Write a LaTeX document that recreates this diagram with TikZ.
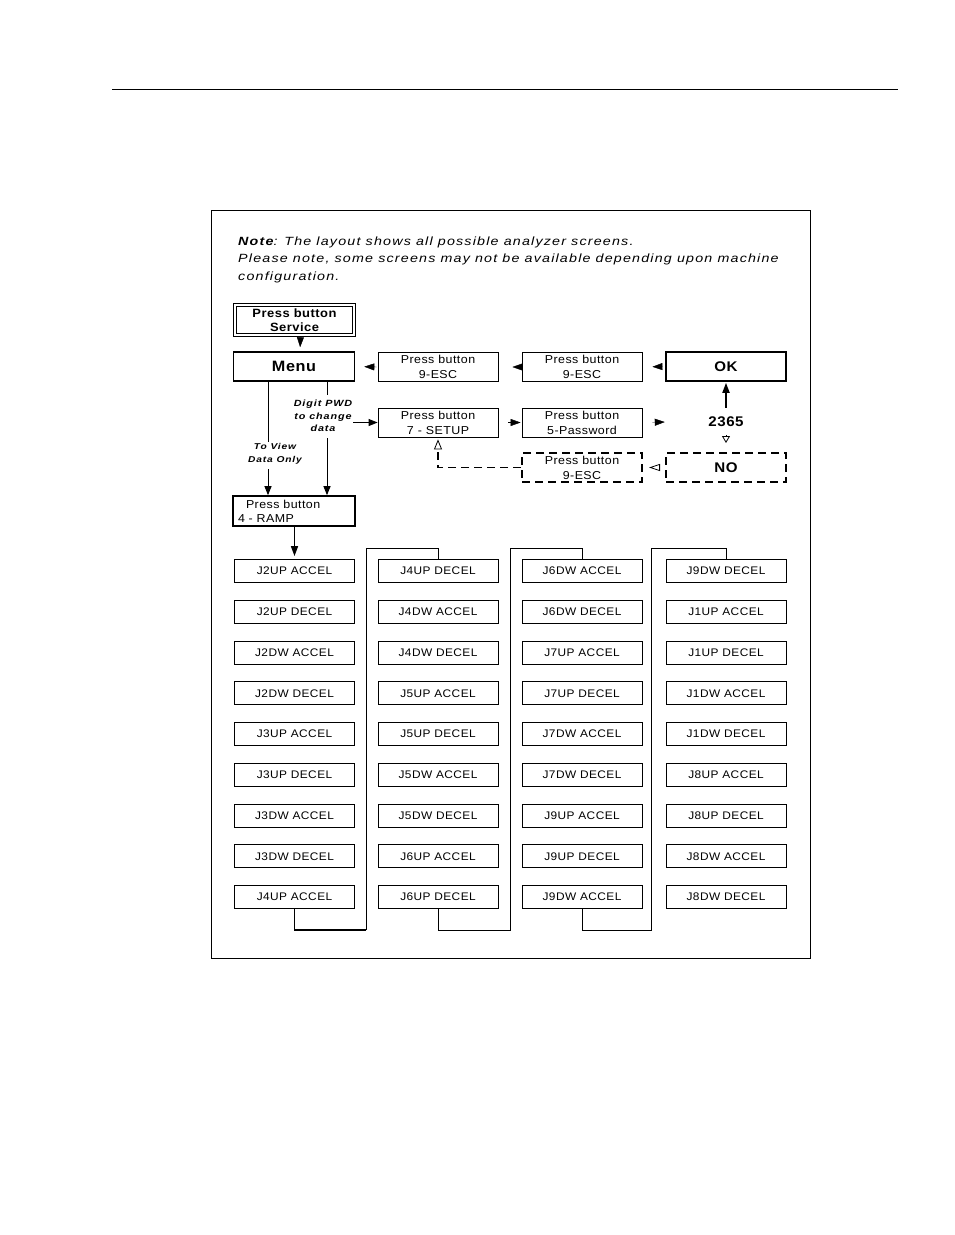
\documentclass[tikz,border=0pt]{standalone}
\usepackage{fontspec}
\setmainfont{Liberation Sans}[FakeStretch=1.08, LetterSpace=4]
\newfontfamily\widefont{Liberation Sans}[FakeStretch=1.2, LetterSpace=10]
\usetikzlibrary{arrows.meta}

\tikzset{
  screen/.style={draw, line width=0.8pt, minimum width=120pt, minimum height=29pt, inner sep=0pt, align=center, font=\fontsize{11.5}{15}\selectfont},
  mainscreen/.style={screen, line width=1.6pt, minimum width=121pt, font=\fontsize{14}{16}\selectfont\bfseries},
  jbox/.style={draw, line width=0.8pt, minimum width=120pt, minimum height=23pt, inner sep=0pt, font=\fontsize{11}{12}\selectfont},
  note/.style={align=center, inner sep=1pt, font=\widefont\fontsize{9}{12.5}\selectfont\bfseries\itshape},
  link/.style={line width=0.9pt},
  tip/.style={-{Triangle[length=10pt,width=7pt]}},
  smalltip/.style={-{Triangle[length=9pt,width=7pt]}},
  opentip/.style={-{Triangle[open,length=11pt,width=7pt]}},
  guess/.style={dashed, line width=2pt, dash pattern=on 8pt off 5pt},
}

\begin{document}
\begin{tikzpicture}[x=1pt, y=-1pt]
  \useasboundingbox (0,0) rectangle (954,1235);
  \draw[line width=0.8pt] (112,89) -- (898,89);
  \draw[line width=0.8pt] (211,210) rectangle (810,958);

  \node[anchor=north west, align=left, inner sep=0pt, font=\widefont\fontsize{11.9}{17.5}\selectfont\itshape] (remark) at (238,236.5)
    {\textbf{Note}: The layout shows all possible analyzer screens.\\
     Please note, some screens may not be available depending upon machine\\
     configuration.};

  % upper part: menu and password loop
  \node[screen, double, double distance=1.8pt, minimum width=119pt, minimum height=30pt, font=\fontsize{12}{14}\selectfont\bfseries] (service) at (294.5,320) {Press button\\Service};
  \node[mainscreen, font=\fontsize{15}{16}\selectfont\bfseries] (menu) at (294,366.5) {Menu};
  \node[screen] (escA) at (438,367) {Press button\\9-ESC};
  \node[screen] (escB) at (582,367) {Press button\\9-ESC};
  \node[mainscreen, minimum width=120pt] (ok) at (726,366.5) {OK};
  \node[screen] (setup) at (438,422.5) {Press button\\7 - SETUP};
  \node[screen] (passwd) at (582,422.5) {Press button\\5-Password};
  \node[minimum width=120pt, minimum height=28pt, inner sep=0pt, font=\fontsize{14}{15}\selectfont\bfseries] (code) at (726,422) {2365};
  \node[screen, guess] (escC) at (582,467.5) {Press button\\9-ESC};
  \node[mainscreen, guess, minimum width=120pt] (no) at (726,467.5) {NO};

  \node[note] (pwdnote) at (323,416) {Digit PWD\\to change\\data};
  \node[note, font=\widefont\fontsize{8.5}{13}\selectfont\bfseries\itshape] (viewnote) at (275,453.5) {To View\\Data Only};
  \node[mainscreen, align=left, text width=112pt, inner xsep=5pt, minimum height=30pt, font=\fontsize{11.5}{14}\selectfont] (ramp) at (294,511) {\hspace*{8pt}Press button\\4 - RAMP};

  \coordinate (vx) at (268,0);
  \coordinate (px) at (327,0);

  \draw[tip, shorten <=2pt, shorten >=4pt] ([xshift=6pt]service.south) -- ([xshift=6pt]menu.north);
  \draw[tip, shorten <=1pt, shorten >=9pt] (escA.west) -- (menu.east);
  \draw[tip, shorten <=1pt, shorten >=14pt] (escB.west) -- (escA.east);
  \draw[tip, shorten <=3pt, shorten >=10pt] (ok.west) -- (escB.east);
  \draw[tip, shorten <=10pt, shorten >=1pt] (setup.east) -- (passwd.west);
  \draw[tip, shorten <=10pt, shorten >=1pt] (passwd.east) -- (code.west);
  \draw[tip, line width=1.8pt, shorten >=1pt] (code.north) -- (ok.south);
  \draw[-{Triangle[open,length=7pt,width=8pt]}, line width=0.8pt, shorten <=1pt, shorten >=9pt] (code.south) -- (no.north);
  \draw[opentip, line width=0.8pt, shorten <=6pt, shorten >=6pt] (no.west) -- (escC.east);
  \draw[guess, -{Triangle[open,length=10pt,width=8pt,line width=0.8pt]}, line width=1.8pt, shorten >=2pt] (escC.west) -| (setup.south);

  \draw[link] (menu.south -| vx) -- (viewnote.north -| vx);
  \draw[link, smalltip, shorten <=4pt] (viewnote.south -| vx) -- (ramp.north -| vx);
  \draw[link] (menu.south -| px) -- ([yshift=4pt]pwdnote.north -| px);
  \draw[link, smalltip] (pwdnote.east |- setup.west) -- (setup.west);
  \draw[link, smalltip, shorten <=5pt] (pwdnote.south -| px) -- (ramp.north -| px);

  % ramp screens
  \node[jbox] (j11) at (294.5,571) {J2UP ACCEL};
  \node[jbox] (j12) at (294.5,611.75) {J2UP DECEL};
  \node[jbox] (j13) at (294.5,652.5) {J2DW ACCEL};
  \node[jbox] (j14) at (294.5,693.25) {J2DW DECEL};
  \node[jbox] (j15) at (294.5,734) {J3UP ACCEL};
  \node[jbox] (j16) at (294.5,774.75) {J3UP DECEL};
  \node[jbox] (j17) at (294.5,815.5) {J3DW ACCEL};
  \node[jbox] (j18) at (294.5,856.25) {J3DW DECEL};
  \node[jbox] (j19) at (294.5,897) {J4UP ACCEL};

  \node[jbox] (j21) at (438,571) {J4UP DECEL};
  \node[jbox] (j22) at (438,611.75) {J4DW ACCEL};
  \node[jbox] (j23) at (438,652.5) {J4DW DECEL};
  \node[jbox] (j24) at (438,693.25) {J5UP ACCEL};
  \node[jbox] (j25) at (438,734) {J5UP DECEL};
  \node[jbox] (j26) at (438,774.75) {J5DW ACCEL};
  \node[jbox] (j27) at (438,815.5) {J5DW DECEL};
  \node[jbox] (j28) at (438,856.25) {J6UP ACCEL};
  \node[jbox] (j29) at (438,897) {J6UP DECEL};

  \node[jbox] (j31) at (582,571) {J6DW ACCEL};
  \node[jbox] (j32) at (582,611.75) {J6DW DECEL};
  \node[jbox] (j33) at (582,652.5) {J7UP ACCEL};
  \node[jbox] (j34) at (582,693.25) {J7UP DECEL};
  \node[jbox] (j35) at (582,734) {J7DW ACCEL};
  \node[jbox] (j36) at (582,774.75) {J7DW DECEL};
  \node[jbox] (j37) at (582,815.5) {J9UP ACCEL};
  \node[jbox] (j38) at (582,856.25) {J9UP DECEL};
  \node[jbox] (j39) at (582,897) {J9DW ACCEL};

  \node[jbox] (j41) at (726,571) {J9DW DECEL};
  \node[jbox] (j42) at (726,611.75) {J1UP ACCEL};
  \node[jbox] (j43) at (726,652.5) {J1UP DECEL};
  \node[jbox] (j44) at (726,693.25) {J1DW ACCEL};
  \node[jbox] (j45) at (726,734) {J1DW DECEL};
  \node[jbox] (j46) at (726,774.75) {J8UP ACCEL};
  \node[jbox] (j47) at (726,815.5) {J8UP DECEL};
  \node[jbox] (j48) at (726,856.25) {J8DW ACCEL};
  \node[jbox] (j49) at (726,897) {J8DW DECEL};

  \draw[link, tip, line width=1.6pt, shorten >=3pt] (ramp.south -| j11.north) -- (j11.north);

  % links between the columns
  \coordinate (b1) at (366,930);
  \coordinate (t1) at (366,548);
  \coordinate (b2) at (510,930);
  \coordinate (t2) at (510,548);
  \coordinate (b3) at (651,930);
  \coordinate (t3) at (651,548);
  \draw[link, line width=1.4pt] (j19.south) |- (b1);
  \draw[link] (b1) -- (t1) -| (j21.north);
  \draw[link] (j29.south) |- (b2) -- (t2) -| (j31.north);
  \draw[link] (j39.south) |- (b3) -- (t3) -| (j41.north);
\end{tikzpicture}
\end{document}
